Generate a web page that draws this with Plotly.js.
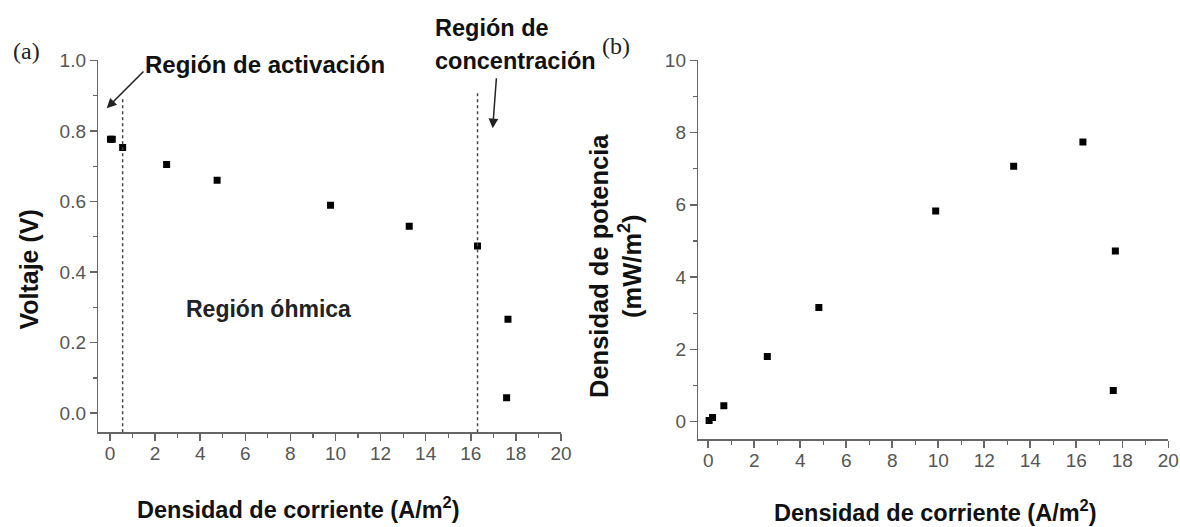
<!DOCTYPE html>
<html>
<head>
<meta charset="utf-8">
<script src="https://cdn.plot.ly/plotly-3.0.1.min.js"></script>
<style>html,body{margin:0;padding:0;background:#fff;}#chart{width:1180px;height:527px;}</style>
</head>
<body>
<div id="chart"></div>
<script>
// ---- data ----
const currentA = [0.02, 0.1, 0.56, 2.51, 4.75, 9.78, 13.27, 16.3, 17.65, 17.59];   // A/m2, panel (a)
const voltage  = [0.776, 0.776, 0.753, 0.705, 0.660, 0.589, 0.530, 0.474, 0.266, 0.044]; // V
const currentB = [0.04, 0.19, 0.68, 2.57, 4.81, 9.89, 13.28, 16.29, 17.70, 17.61];  // A/m2, panel (b)
const power    = [0.03, 0.11, 0.44, 1.80, 3.16, 5.83, 7.07, 7.74, 4.72, 0.86];       // mW/m2
const regionBounds = [0.56, 16.3];     // dashed region separators (A/m2)
const xTicks = [0, 2, 4, 6, 8, 10, 12, 14, 16, 18, 20];
const vTicks = [0.0, 0.2, 0.4, 0.6, 0.8, 1.0];
const pTicks = [0, 2, 4, 6, 8, 10];

const W = 1180, H = 527;
const px = v => v / W;
const py = v => 1 - v / H;
const FONT = 'Liberation Sans, Arial, sans-serif';
const AX = '#666';

const trA = {x: currentA, y: voltage, type: 'scatter', mode: 'markers', xaxis: 'x', yaxis: 'y',
  marker: {symbol: 'square', size: 7, color: '#000'}, showlegend: false, hoverinfo: 'x+y'};
const trB = {x: currentB, y: power, type: 'scatter', mode: 'markers', xaxis: 'x2', yaxis: 'y2',
  marker: {symbol: 'square', size: 7, color: '#000'}, showlegend: false, hoverinfo: 'x+y'};

function axisBase(extra) {
  return Object.assign({
    showline: true, linecolor: AX, linewidth: 1.5, showgrid: false, zeroline: false,
    ticks: 'outside', ticklen: 7, tickwidth: 1.5, tickcolor: AX,
    tickfont: {family: FONT, size: 19, color: '#555'},
    fixedrange: true
  }, extra);
}
const minorX = {dtick: 1, tick0: 0, ticks: 'outside', ticklen: 4, tickwidth: 1.2, tickcolor: AX, showgrid: false};

function label(text, x, y, size, extra) {
  return Object.assign({xref: 'paper', yref: 'paper', x: px(x), y: py(y), xanchor: 'center', yanchor: 'middle',
    showarrow: false, text: text, font: {family: FONT, size: size, color: '#111'}}, extra || {});
}
function arrow(hx, hy, tx, ty) {
  return {xref: 'paper', yref: 'paper', x: px(hx), y: py(hy), text: '', showarrow: true,
    ax: tx - hx, ay: ty - hy, arrowhead: 2, arrowsize: 1.3, arrowwidth: 1.5, arrowcolor: '#222'};
}

const layout = {
  width: W, height: H,
  margin: {l: 0, r: 0, t: 0, b: 0},
  paper_bgcolor: '#fff', plot_bgcolor: '#fff',
  font: {family: FONT, color: '#111'},
  xaxis: axisBase({domain: [px(98.3), px(561)], range: [-0.52, 20.002], anchor: 'y', ticklabelstandoff: -4,
    tickvals: xTicks, ticktext: xTicks.map(String), minor: minorX}),
  yaxis: axisBase({domain: [py(432.3), py(60)], range: [-0.054, 1.0008], anchor: 'x',
    tickvals: vTicks, ticktext: vTicks.map(v => v.toFixed(1)),
    minor: {dtick: 0.1, tick0: 0, ticks: 'outside', ticklen: 4, tickwidth: 1.2, tickcolor: AX, showgrid: false}}),
  xaxis2: axisBase({domain: [px(698.3), px(1168.3)], range: [-0.43, 20.002], anchor: 'y2', ticklabelstandoff: -4,
    tickvals: xTicks, ticktext: xTicks.map(String), minor: minorX}),
  yaxis2: axisBase({domain: [py(439.3), py(60)], range: [-0.49, 10.008], anchor: 'x2',
    tickvals: pTicks, ticktext: pTicks.map(String),
    minor: {dtick: 1, tick0: 0, ticks: 'outside', ticklen: 4, tickwidth: 1.2, tickcolor: AX, showgrid: false}}),
  shapes: [
    {type: 'line', xref: 'x', yref: 'y', x0: regionBounds[0], x1: regionBounds[0], y0: -0.054, y1: 0.896,
      line: {color: '#444', width: 1.5, dash: '3px,3px'}},
    {type: 'line', xref: 'x', yref: 'y', x0: regionBounds[1], x1: regionBounds[1], y0: -0.054, y1: 0.915,
      line: {color: '#444', width: 1.5, dash: '3px,3px'}}
  ],
  annotations: [
    label('<b>Densidad de corriente (A/m<sup>2</sup>)</b>', 298, 508, 23.5),
    label('<b>Densidad de corriente (A/m<sup>2</sup>)</b>', 935, 511, 23.5),
    label('<b>Voltaje (V)</b>', 28.6, 270, 25, {textangle: -90}),
    label('<b>Densidad de potencia<br>(mW/m<sup>2</sup>)</b>', 615, 266, 25.5, {textangle: -90}),
    label('(a)', 26, 51, 24, {font: {family: 'Liberation Serif, Times New Roman, serif', size: 24, color: '#222'}}),
    label('(b)', 616, 46, 24, {font: {family: 'Liberation Serif, Times New Roman, serif', size: 24, color: '#222'}}),
    label('<b>Región de activación</b>', 265, 64, 24),
    label('<b>Región de</b>', 433, 28, 23.5, {xanchor: 'left'}),
    label('<b>concentración</b>', 433, 61, 23.5, {xanchor: 'left'}),
    label('<b>Región óhmica</b>', 268, 309, 23, {font: {family: FONT, size: 23, color: '#222'}}),
    arrow(106.7, 108.3, 145, 70),
    arrow(492.7, 128.3, 496.5, 76.7)
  ]
};

Plotly.newPlot('chart', [trA, trB], layout, {displayModeBar: false, staticPlot: true});
</script>
</body>
</html>
